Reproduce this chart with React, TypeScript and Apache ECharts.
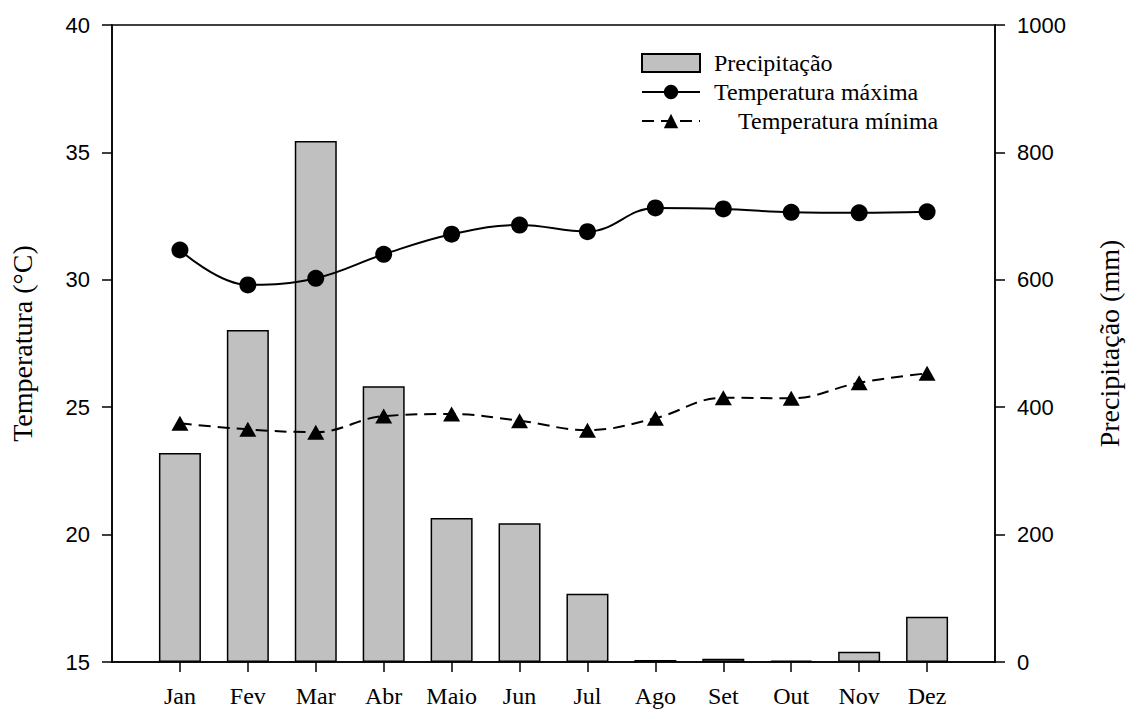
import React, { useEffect, useRef } from "react";
import * as echarts from "echarts";

const months = ["Jan", "Fev", "Mar", "Abr", "Maio", "Jun", "Jul", "Ago", "Set", "Out", "Nov", "Dez"];
const precipitacao = [328, 521, 818, 433, 226, 218, 107, 3, 5, 2, 16, 71];
const tempMax = [31.17, 29.8, 30.06, 31.0, 31.79, 32.15, 31.89, 32.82, 32.78, 32.65, 32.63, 32.67];
const tempMin = [24.37, 24.13, 24.02, 24.65, 24.73, 24.47, 24.1, 24.57, 25.37, 25.35, 25.96, 26.33];
const tempTicks = { min: 15, max: 40, interval: 5 };
const precTicks = { min: 0, max: 1000, interval: 200 };

const SERIF = "'Liberation Serif', 'Times New Roman', serif";
const SANS = "'Liberation Sans', Arial, sans-serif";

export default function App() {
  const ref = useRef<HTMLDivElement>(null);
  useEffect(() => {
    if (!ref.current) return;
    const chart = echarts.init(ref.current, undefined, { renderer: "svg" });
    const cats = ["", ...months, ""];
    const pad = (arr: number[]) => [null, ...arr, null];
    chart.setOption({
      animation: false,
      backgroundColor: "#ffffff",
      grid: {
        left: 111,
        right: 135,
        top: 25,
        bottom: 48,
        show: true,
        borderColor: "#000",
        borderWidth: 1.5,
        backgroundColor: "transparent",
      },
      legend: {
        orient: "vertical",
        left: 636,
        top: 46,
        padding: 5,
        itemWidth: 58,
        itemHeight: 18,
        itemGap: 5,
        data: [
          { name: "Precipitação", icon: "rect" },
          "Temperatura máxima",
          "Temperatura mínima",
        ],
        formatter: (name: string) =>
          name === "Temperatura mínima" ? "\u00a0\u00a0\u00a0\u00a0" + name : name,
        textStyle: { fontFamily: SERIF, fontSize: 24, color: "#000", padding: [0, 0, 0, 9], lineHeight: 24 },
      },
      xAxis: {
        type: "category",
        data: cats,
        boundaryGap: false,
        axisLine: { show: true, lineStyle: { color: "#000", width: 1.5 } },
        axisTick: {
          show: true,
          length: 10,
          inside: false,
          interval: (index: number) => index >= 1 && index <= 12,
          lineStyle: { color: "#000", width: 1.5 },
        },
        axisLabel: {
          interval: 0,
          margin: 22,
          fontFamily: SERIF,
          fontSize: 24,
          color: "#000",
        },
        splitLine: { show: false },
      },
      yAxis: [
        {
          type: "value",
          position: "left",
          min: tempTicks.min,
          max: tempTicks.max,
          interval: tempTicks.interval,
          name: "Temperatura (°C)",
          nameLocation: "middle",
          nameGap: 76,
          nameTextStyle: { fontFamily: SERIF, fontSize: 28, color: "#000" },
          axisLine: { show: true, lineStyle: { color: "#000", width: 1.5 } },
          axisTick: { show: true, length: 10, lineStyle: { color: "#000", width: 1.5 } },
          axisLabel: { margin: 22, fontFamily: SANS, fontSize: 22, color: "#000" },
          splitLine: { show: false },
        },
        {
          type: "value",
          position: "right",
          min: precTicks.min,
          max: precTicks.max,
          interval: precTicks.interval,
          name: "Precipitação (mm)",
          nameLocation: "middle",
          nameGap: 100,
          nameRotate: 90,
          nameTextStyle: { fontFamily: SERIF, fontSize: 28, color: "#000" },
          axisLine: { show: true, lineStyle: { color: "#000", width: 1.5 } },
          axisTick: { show: true, length: 10, lineStyle: { color: "#000", width: 1.5 } },
          axisLabel: {
            margin: 22,
            fontFamily: SANS,
            fontSize: 22,
            color: "#000",
            formatter: (v: number) => String(v),
          },
          splitLine: { show: false },
        },
      ],
      series: [
        {
          name: "Precipitação",
          type: "bar",
          yAxisIndex: 1,
          barWidth: 42,
          data: pad(precipitacao),
          itemStyle: { color: "#c0c0c0", borderColor: "#000", borderWidth: 1.5 },
          z: 1,
        },
        {
          name: "Temperatura máxima",
          type: "line",
          yAxisIndex: 0,
          data: pad(tempMax),
          smooth: 0.4,
          symbol: "circle",
          symbolSize: 17,
          showAllSymbol: true,
          lineStyle: { color: "#000", width: 2 },
          itemStyle: { color: "#000" },
          z: 3,
        },
        {
          name: "Temperatura mínima",
          type: "line",
          yAxisIndex: 0,
          data: pad(tempMin),
          smooth: 0.4,
          symbol: "triangle",
          symbolSize: [17, 15],
          showAllSymbol: true,
          lineStyle: { color: "#000", width: 2, type: [12, 7] },
          itemStyle: { color: "#000" },
          z: 3,
        },
      ],
    });
    return () => chart.dispose();
  }, []);
  return (
    <div
      ref={ref}
      style={{ position: "absolute", left: 0, top: 0, width: 1131, height: 710 }}
    />
  );
}
